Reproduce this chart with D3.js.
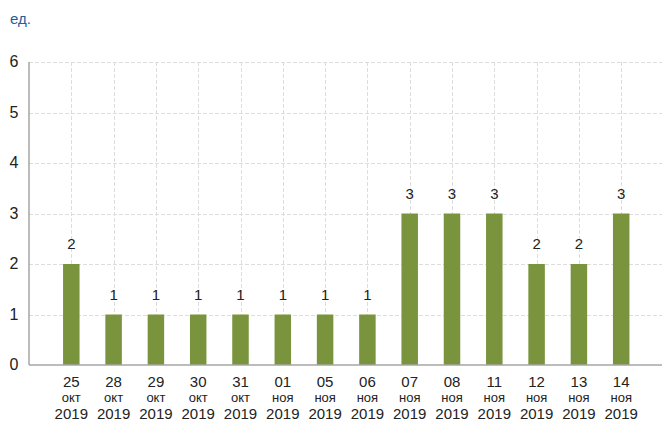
<!DOCTYPE html>
<meta charset="utf-8">
<style>
body { margin: 0; background: #fff; }
text { font-family: Arial, "Liberation Sans", sans-serif; }
.grid line { stroke: #ddd; stroke-width: 1px; stroke-dasharray: 4,2; }
.axisline { stroke: #a6a6a6; stroke-width: 1.5px; }
.bar { fill: #7a943d; }
</style>
<svg width="662" height="421"></svg>
<script src="https://d3js.org/d3.v7.min.js"></script>
<script>
var days = ["25","28","29","30","31","01","05","06","07","08","11","12","13","14"];
var months = ["окт","окт","окт","окт","окт","ноя","ноя","ноя","ноя","ноя","ноя","ноя","ноя","ноя"];
var years = ["2019","2019","2019","2019","2019","2019","2019","2019","2019","2019","2019","2019","2019","2019"];
var values = [2,1,1,1,1,1,1,1,3,3,3,2,2,3];
var yTicks = [0,1,2,3,4,5,6];

var svg = d3.select("svg");
var plotL = 29, plotR = 663.5, plotT = 62, plotB = 365;

// one empty slot before the first bar, last one past the right edge
var x = d3.scaleLinear().domain([-1, 14]).range([plotL, plotR]);
var y = d3.scaleLinear().domain([0, 6]).range([plotB, plotT]);
var barW = 16.5;

var grid = svg.append("g").attr("class", "grid");
grid.selectAll(".h").data(yTicks.filter(function(d) { return d > 0; }))
  .enter().append("line")
    .attr("x1", plotL).attr("x2", 662)
    .attr("y1", function(d) { return Math.round(y(d)) + 0.5; })
    .attr("y2", function(d) { return Math.round(y(d)) + 0.5; });
grid.selectAll(".v").data(values)
  .enter().append("line")
    .attr("x1", function(d, i) { return Math.round(x(i)) + 0.5; })
    .attr("x2", function(d, i) { return Math.round(x(i)) + 0.5; })
    .attr("y1", plotT).attr("y2", plotB);

svg.selectAll(".bar").data(values)
  .enter().append("rect")
    .attr("class", "bar")
    .attr("x", function(d, i) { return x(i) - barW / 2; })
    .attr("y", function(d) { return y(d); })
    .attr("width", barW)
    .attr("height", function(d) { return y(0) - y(d); });

svg.selectAll(".val").data(values)
  .enter().append("text")
    .attr("x", function(d, i) { return x(i); })
    .attr("y", function(d) { return y(d) - 15; })
    .attr("text-anchor", "middle")
    .attr("font-size", 15)
    .attr("fill", "#222")
    .text(function(d) { return d; });

svg.append("line").attr("class", "axisline")
  .attr("x1", plotL).attr("x2", plotL).attr("y1", plotT).attr("y2", plotB);
svg.append("line").attr("class", "axisline")
  .attr("x1", plotL).attr("x2", 662).attr("y1", plotB).attr("y2", plotB);

svg.selectAll(".ytick").data(yTicks)
  .enter().append("text")
    .attr("x", 14)
    .attr("y", function(d) { return y(d) + 5; })
    .attr("text-anchor", "middle")
    .attr("font-size", 16)
    .attr("fill", "#222")
    .text(function(d) { return d; });

var xl = svg.selectAll(".xl").data(values).enter().append("g")
  .attr("transform", function(d, i) { return "translate(" + x(i) + ",0)"; });
xl.append("text").attr("y", 387).attr("text-anchor", "middle").attr("font-size", 15).attr("fill", "#222")
  .text(function(d, i) { return days[i]; });
xl.append("text").attr("y", 402).attr("text-anchor", "middle").attr("font-size", 13).attr("fill", "#222")
  .text(function(d, i) { return months[i]; });
xl.append("text").attr("y", 419).attr("text-anchor", "middle").attr("font-size", 15).attr("fill", "#222")
  .text(function(d, i) { return years[i]; });

svg.append("text").attr("x", 10).attr("y", 24).attr("font-size", 15).attr("fill", "#1f5f9f").text("ед.");
</script>
